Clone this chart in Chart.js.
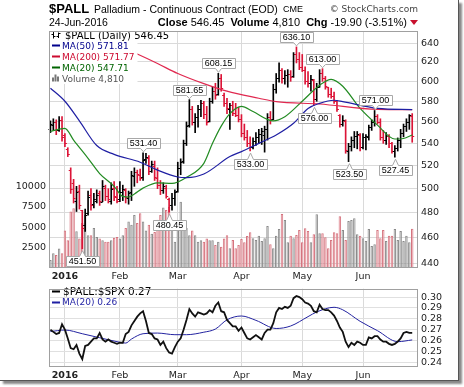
<!DOCTYPE html>
<html><head><meta charset="utf-8">
<script src="https://cdn.jsdelivr.net/npm/chart.js@4.4.1/dist/chart.umd.min.js"></script>
<style>
html,body{margin:0;padding:0;background:#fff;}
#wrap{position:relative;width:464px;height:387px;overflow:hidden;background:#fff;}
#frame{position:absolute;left:0;top:0;width:458px;height:380px;border-right:1px solid #555;border-bottom:1px solid #555;box-shadow:3px 3px 2px #888;background:#fff;}
canvas{position:absolute;left:0;}
#c1{top:0;}
#c2{top:280px;}
.t{position:absolute;white-space:nowrap;font-family:"Liberation Sans",Arial,sans-serif;color:#000;}
.tri{display:inline-block;width:0;height:0;border-left:4px solid transparent;border-right:4px solid transparent;border-top:5px solid #c8102e;margin-left:3px;vertical-align:1px;}
</style></head>
<body>
<div id="wrap">
<div id="frame"></div>
<canvas id="c1" width="464" height="282"></canvas>
<canvas id="c2" width="464" height="101"></canvas>
<div class="t" id="hSym" style="left:49px;top:2px;font-size:13px;line-height:13px;font-weight:bold"></div>
<div class="t" id="hName" style="left:94px;top:3.5px;font-size:10.5px;line-height:10.5px"></div>
<div class="t" id="hExch" style="left:283px;top:5px;font-size:9px;line-height:9px"></div>
<div class="t" style="right:46px;top:4.5px;font-size:9px;line-height:9px;font-family:'DejaVu Sans',sans-serif;color:#444">© StockCharts.com</div>
<div class="t" id="hDate" style="left:49px;top:17px;font-size:10.5px;line-height:10.5px"></div>
<div class="t" id="hStats" style="right:46px;top:16.5px;font-size:11px;line-height:11px"></div>
</div>
<script>
// ---------- DATA ----------
const symbol = '$PALL';
const longName = 'Palladium - Continuous Contract (EOD)';
const exchange = 'CME';
const lastDate = '24-Jun-2016';
const lastClose = 546.45;
const lastVolume = '4,810';
const change = '-19.90 (-3.51%)';

// trading-day index positions of month starts and their labels
const monthTickIdx = [5, 24, 44, 66, 87, 108];
const monthLabels = ['2016', 'Feb', 'Mar', 'Apr', 'May', 'Jun'];
const priceTicks = [440,460,480,500,520,540,560,580,600,620,640];
const volTicks = [2500,5000,7500,10000];
const ratioTicks = [0.24,0.25,0.26,0.27,0.28,0.29,0.30];

const open = [553,557,560,552,562,548,535,516,505,490,
498,482,470,480,495,487,490,496,489,501,
494,490,501,493,491,497,499,492,497,511,
514,512,510,526,527,515,520,509,503,499,
501,491,486,492,498,518,524,540,557,572,
560,565,572,578,568,561,580,590,587,603,
586,578,572,576,569,567,563,550,546,540,
537,542,546,549,548,553,565,563,592,603,
612,603,606,608,605,628,623,615,612,600,
598,601,582,594,609,603,594,587,585,580,
567,558,561,533,538,543,547,548,537,546,
546,555,560,566,560,546,543,547,540,533,
536,543,550,556,560,566];
const high = [561,563,562,565,565,549,536,518,508,502,
503,482,483,498,500,496,499,498,507,503,
500,505,506,502,506,503,500,498,515,518,
516,517,531.4,531,529,524,524,518,507,505,
503,492,496,499,523,526,543,560,581.65,575,
568,576,581,580,575,583,594,598,608.15,607,
588,583,578,580,578,574,567,558,552,546,
545,550,553,554,556,568,570,597,608,619,
613,611,612,611,630,636.1,630,628,615,610,
606,602,598,612,613,605,594,593,589,581,
567,566,562,540,546,551,551,549,549,548,
557,562,571,567,563,552,550,548,541,538,
545,553,558,563,567,568];
const low = [550,552,548,551,542,537,528,496,488,481,
483,451.5,465,478,482,484,488,486,489,490,
488,487,490,488,489,490,488,487,490,502,
505,507,507,522,512,514,507,500,495,496,
492,480.45,482,486,497,512,522,538,555,557,
550,555,565,563,557,560,578,582,586,590,
575,568,553,566,565,560,546,543,537,533,
535,538,540,539,532,543,558,562,588,599,
598,597,594,600,604,619,612,610,597,594,
590,576,580,594,600,592,584,583,578,570,
555,556,531,523.5,533,536,535,533,535,534,
543,552,556,558,543,540,539,536,531,527.45,
533,536,546,551,553,541];
const close = [558,560,552,562,546,540,530,500,492,497,
486,468,478,493,486,491,495,490,502,494,
491,500,494,490,497,500,493,496,512,514,
513,509,525,528,515,521,510,503,499,502,
494,486,492,497,518,523,540,556,572,560,
565,572,578,568,560,580,590,586,603,593,
578,573,576,569,567,563,550,546,540,537,
542,546,549,551,553,565,562,592,603,612,
603,606,608,604,628,623,615,612,600,598,
602,582,594,609,603,595,587,585,580,572,
558,562,534,538,543,547,549,537,546,547,
555,560,566,560,546,543,547,540,533,536,
543,550,556,560,566.35,546.45];
const volume = [980,1800,1600,2400,1800,4600,3400,6900,7300,4500,3600,
5500,6500,4000,4000,4900,3800,3600,3400,3200,3200,
3400,3700,3800,3600,4000,4900,5700,5300,6500,5500,
6700,5700,4600,5300,4200,4400,5900,6500,7400,7100,
7500,4900,3200,4900,8100,5500,4900,4000,4600,4000,
3200,3400,3200,3600,3400,3400,2800,3200,2600,3600,4000,
2410,3430,2410,2820,3550,3140,3920,4370,3630,3430,
3960,3310,3630,5150,2900,2410,3960,4780,6620,5880,
3140,3960,3630,4040,4650,3140,4860,4530,3140,4120,
6570,4250,4250,3750,2410,3430,4370,4250,6330,4650,
3430,5760,5880,6090,4120,3960,3630,3310,4780,2700,
2900,4650,3630,4650,3310,3960,3960,4780,3430,4530,
3310,3960,3140,4810];

// moving averages at sample bar positions
const ma50Idx = [0,5,10,16,22,31,37,44,47,53,62,66,72,78,84,89,93,98,101,113,125];
const ma50Val = [593,580,561,538,530,523,516,510,509.5,512.6,528,532.5,540,547.7,558.7,573,578,581,579.6,573,571.81];
const ma200Idx = [27,30,37,44,53,61,72,78,93,113,125];
const ma200Val = [632.5,628.4,618.4,608,597.6,590,583,579.6,577.3,572,571.77];
const ma20Idx = [0,5,8,13,17,22,25,27,29,32,37,42,47,53,56,59,62,66,70,77,81,87,93,97,101,107,113,119,122,125];
const ma20Val = [551,554,543,526.5,513,502,493.5,493,495.5,500.5,505,504.5,509.7,522,540,556,568,575,570,561,565,580,596,602,595,573,557,544,544.5,547.71];
const ma50Last = 571.81, ma200Last = 571.77, ma20Last = 547.71;

// $PALL:$SPX ratio
const ratio = [.270,.268,.266,.267,.275,.270,.262,.253,.252,.256,
.248,.243,.255,.256,.259,.262,.262,.267,.261,.259,
.261,.259,.258,.257,.258,.258,.266,.268,.274,.278,
.282,.285,.287,.278,.267,.266,.262,.261,.256,.259,
.253,.249,.248,.254,.259,.262,.270,.279,.289,.285,
.282,.286,.285,.284,.285,.288,.286,.292,.295,.287,
.286,.279,.276,.273,.273,.269,.272,.267,.262,.261,
.263,.265,.263,.261,.267,.270,.270,.276,.286,.290,
.289,.291,.290,.292,.299,.301,.300,.298,.295,.294,
.292,.287,.286,.293,.289,.288,.288,.286,.283,.278,
.272,.268,.259,.254,.258,.256,.259,.258,.256,.256,
.263,.262,.264,.264,.261,.259,.259,.257,.256,.257,
.259,.262,.267,.268,.267,.267];
const ratioMaIdx = [0,5,11,17,23,26,28,32,37,43,47,53,57,61,66,71,78,83,89,92,98,101,107,113,120,125];
const ratioMaVal = [.2683,.2697,.2663,.2626,.259,.2577,.2614,.2663,.2669,.2654,.2654,.2677,.2706,.2791,.2826,.2786,.2711,.2734,.282,.2863,.2906,.2883,.2777,.2691,.259,.2606];
const ratioLast = '0.27', ratioMaLast = '0.26';

// annotated highs / lows
const annIdx = [11,32,41,48,58,69,85,91,94,103,112,119];
const annVal = [451.50,531.40,480.45,581.65,608.15,533.00,636.10,576.00,613.00,523.50,571.00,527.45];
const annPos = ['below','above','below','above','above','below','above','below','above','below','above','below'];

// ---------- HEADER ----------
document.getElementById('hSym').textContent = symbol;
document.getElementById('hName').textContent = longName;
document.getElementById('hExch').textContent = exchange;
document.getElementById('hDate').textContent = lastDate;
document.getElementById('hStats').innerHTML = '<b>Close</b> ' + lastClose.toFixed(2) + ' &nbsp;<b>Volume</b> ' + lastVolume + ' &nbsp;<b>Chg</b> ' + change + '<span class="tri"></span>';

// ---------- CHARTS ----------
const RED = '#dc1437';
const FONT = '"DejaVu Sans", Verdana, sans-serif';
Chart.defaults.font.family = FONT;
Chart.defaults.font.size = 9.5;
Chart.defaults.color = '#222';

const idx = close.map((_, i) => i);
const isDown = close.map((c, i) => i > 0 && c < close[i - 1]);
const barColor = isDown.map(d => d ? RED : '#000');
const volFill = isDown.map(d => d ? '#f2b7bd' : '#bebebe');
const volBorder = isDown.map(d => d ? '#d5737e' : '#8a8a8a');

const xScale = (h) => ({
  type: 'linear', min: -0.5, max: 127, offset: false,
  afterFit(s) { s.height = h; },
  afterBuildTicks(s) { s.ticks = monthTickIdx.map(v => ({ value: v })); },
  ticks: { padding: 3, maxRotation: 0, autoSkip: false, color: '#222',
    callback: (v, i) => monthLabels[i],
    font: c => ({ family: FONT, size: 9.5, weight: c.index === 0 ? 'bold' : 'normal' }) },
  grid: { color: '#dadada', drawTicks: false, offset: false },
  border: { display: false }
});

const framePlugin = {
  id: 'frame',
  afterDraw(chart) {
    const a = chart.chartArea, ctx = chart.ctx;
    ctx.save();
    ctx.strokeStyle = '#a0a0a0'; ctx.lineWidth = 1;
    ctx.strokeRect(Math.round(a.left) + 0.5, Math.round(a.top) + 0.5, Math.round(a.right - a.left) - 1, Math.round(a.bottom - a.top) - 1);
    ctx.restore();
  }
};

const ohlcPlugin = {
  id: 'ohlcTicks',
  afterDatasetDraw(chart, args) {
    if (chart.data.datasets[args.index].label !== 'price') return;
    const xs = chart.scales.x, ys = chart.scales.y, ctx = chart.ctx;
    ctx.save();
    ctx.lineWidth = 1;
    idx.forEach(i => {
      const x = xs.getPixelForValue(i);
      ctx.strokeStyle = barColor[i];
      const yo = Math.round(ys.getPixelForValue(open[i])) + 0.5;
      const yc = Math.round(ys.getPixelForValue(close[i])) + 0.5;
      ctx.beginPath();
      ctx.moveTo(x - 2, yo); ctx.lineTo(x, yo);
      ctx.moveTo(x, yc); ctx.lineTo(x + 2, yc);
      ctx.stroke();
    });
    ctx.restore();
  }
};

const annPlugin = {
  id: 'annotations',
  afterDatasetsDraw(chart) {
    const xs = chart.scales.x, ys = chart.scales.y, ctx = chart.ctx, a = chart.chartArea;
    ctx.save();
    ctx.font = '9px "Liberation Sans", Arial, sans-serif';
    ctx.textAlign = 'center'; ctx.textBaseline = 'middle';
    annIdx.forEach((i, k) => {
      const x = Math.round(xs.getPixelForValue(i)) + 0.5;
      const yv = ys.getPixelForValue(annVal[k]);
      const txt = annVal[k].toFixed(2);
      const w = Math.round(ctx.measureText(txt).width) + 5, h = 10;
      const bx = Math.round(x - w / 2) + 0.5;
      let top, tipY;
      ctx.beginPath();
      if (annPos[k] === 'above') {
        const bottom = Math.round(yv - 5) + 0.5; top = bottom - h; tipY = yv - 1;
        ctx.moveTo(bx, top); ctx.lineTo(bx + w, top); ctx.lineTo(bx + w, bottom);
        ctx.lineTo(x + 3, bottom); ctx.lineTo(x, tipY); ctx.lineTo(x - 3, bottom);
        ctx.lineTo(bx, bottom); ctx.closePath();
      } else {
        top = Math.round(Math.min(yv + 7.5, a.bottom - 1 - h)) + 0.5; tipY = yv + 2; const bottom = top + h;
        ctx.moveTo(bx, top); ctx.lineTo(x - 3, top); ctx.lineTo(x, tipY); ctx.lineTo(x + 3, top);
        ctx.lineTo(bx + w, top); ctx.lineTo(bx + w, bottom); ctx.lineTo(bx, bottom); ctx.closePath();
      }
      ctx.fillStyle = '#fff'; ctx.fill();
      ctx.strokeStyle = '#a8a8a8'; ctx.lineWidth = 1; ctx.stroke();
      ctx.fillStyle = '#000';
      ctx.fillText(txt, x, top + h / 2 + 0.5);
    });
    ctx.restore();
  }
};

const mainLegend = {
  id: 'mainLegend',
  afterDatasetsDraw(chart) {
    const ctx = chart.ctx, a = chart.chartArea;
    ctx.save();
    ctx.textBaseline = 'alphabetic'; ctx.textAlign = 'left';
    ctx.font = '10px ' + FONT;
    const t1 = symbol + ' (Daily) ' + lastClose.toFixed(2);
    const w1 = ctx.measureText(t1).width;
    ctx.fillStyle = '#fff';
    ctx.fillRect(a.left + 1, a.top + 1, 65 - a.left + w1 + 2, 9);
    ctx.font = '9px ' + FONT;
    const rows = [
      { t: 'MA(50) ' + ma50Last.toFixed(2), c: '#00008b', y: 48.5 },
      { t: 'MA(200) ' + ma200Last.toFixed(2), c: '#cc0a2f', y: 59.5 },
      { t: 'MA(20) ' + ma20Last.toFixed(2), c: '#006400', y: 70.5 },
      { t: 'Volume ' + lastVolume, c: '#555', y: 81.5 }
    ];
    const mw = Math.max(...rows.map(r => ctx.measureText(r.t).width));
    ctx.fillStyle = '#fff';
    ctx.fillRect(a.left + 1, a.top + 10, 62 - a.left + mw + 2, 84 - a.top - 10);
    ctx.strokeStyle = '#000'; ctx.lineWidth = 1;
    ctx.beginPath();
    ctx.moveTo(53.5, 32); ctx.lineTo(53.5, 38.5); ctx.moveTo(51.5, 34.5); ctx.lineTo(53.5, 34.5); ctx.moveTo(53.5, 36.5); ctx.lineTo(55.5, 36.5);
    ctx.moveTo(58.5, 32.5); ctx.lineTo(58.5, 38); ctx.moveTo(56.5, 36.5); ctx.lineTo(58.5, 36.5); ctx.moveTo(58.5, 33.5); ctx.lineTo(60.5, 33.5);
    ctx.stroke();
    ctx.font = '10px ' + FONT; ctx.fillStyle = '#000';
    ctx.fillText(t1, 65, 38.5);
    ctx.font = '9px ' + FONT;
    rows.forEach((r, k) => {
      ctx.fillStyle = r.c;
      if (k < 3) { ctx.fillRect(52, r.y - 4, 8, 2); }
      else {
        ctx.fillStyle = '#777';
        ctx.fillRect(52, r.y - 4, 2, 4); ctx.fillRect(54.5, r.y - 7, 2, 7); ctx.fillRect(57, r.y - 5, 2, 5);
        ctx.fillStyle = r.c;
      }
      ctx.fillText(r.t, 62, r.y);
    });
    ctx.restore();
  }
};

new Chart(document.getElementById('c1'), {
  type: 'bar',
  data: {
    datasets: [
      { type: 'line', label: 'MA(50)', data: ma50Idx.map((x, k) => ({ x, y: ma50Val[k] })), yAxisID: 'y',
        borderColor: '#1f1fa3', borderWidth: 1.2, pointRadius: 0, cubicInterpolationMode: 'monotone', order: 1 },
      { type: 'line', label: 'MA(200)', data: ma200Idx.map((x, k) => ({ x, y: ma200Val[k] })), yAxisID: 'y',
        borderColor: '#e0284f', borderWidth: 1.2, pointRadius: 0, cubicInterpolationMode: 'monotone', order: 1 },
      { type: 'line', label: 'MA(20)', data: ma20Idx.map((x, k) => ({ x, y: ma20Val[k] })), yAxisID: 'y',
        borderColor: '#228b22', borderWidth: 1.2, pointRadius: 0, cubicInterpolationMode: 'monotone', order: 1 },
      { type: 'bar', label: 'price', data: idx.map(i => ({ x: i, y: [low[i], high[i]] })), yAxisID: 'y',
        backgroundColor: barColor, borderWidth: 0, barThickness: 1, grouped: false, order: 2 },
      { type: 'bar', label: 'Volume', data: idx.map(i => ({ x: i, y: volume[i] })), yAxisID: 'yVol',
        backgroundColor: volFill, borderColor: volBorder, borderWidth: 1, borderSkipped: 'bottom',
        barPercentage: 0.85, categoryPercentage: 1, grouped: false, order: 3 }
    ]
  },
  options: {
    responsive: false, animation: false, devicePixelRatio: 1, events: [],
    layout: { padding: { top: 31, left: 0, right: 0, bottom: 0 } },
    plugins: { legend: { display: false }, tooltip: { enabled: false } },
    scales: {
      x: xScale(14),
      y: { type: 'logarithmic', position: 'right', min: 437, max: 653.5,
        afterFit(s) { s.width = 46; },
        afterBuildTicks(s) { s.ticks = priceTicks.map(v => ({ value: v })); },
        ticks: { padding: 3, color: '#222', autoSkip: false, callback: v => String(v) },
        grid: { color: '#dadada', drawTicks: false }, border: { display: false } },
      yVol: { type: 'linear', position: 'left', min: 0, max: 29000,
        afterFit(s) { s.width = 49; },
        afterBuildTicks(s) { s.ticks = volTicks.map(v => ({ value: v })); },
        ticks: { padding: 3, color: '#222', autoSkip: false, callback: v => String(v) },
        grid: { display: false, drawTicks: false }, border: { display: false } }
    }
  },
  plugins: [ohlcPlugin, annPlugin, mainLegend, framePlugin]
});

const ratioLegend = {
  id: 'ratioLegend',
  afterDatasetsDraw(chart) {
    const ctx = chart.ctx;
    ctx.save();
    ctx.textBaseline = 'alphabetic';
    ctx.fillStyle = '#000';
    ctx.fillRect(52, 10.5, 8, 2);
    ctx.font = '10.5px ' + FONT;
    ctx.fillText(symbol + ':$SPX ' + ratioLast, 63, 14.5);
    ctx.fillStyle = '#1f1fa3';
    ctx.fillRect(52, 21.5, 8, 2);
    ctx.font = '9px ' + FONT;
    ctx.fillText('MA(20) ' + ratioMaLast, 62, 25);
    ctx.restore();
  }
};

new Chart(document.getElementById('c2'), {
  type: 'line',
  data: {
    datasets: [
      { label: 'ratio', data: idx.map(i => ({ x: i, y: ratio[i] })), borderColor: '#111', borderWidth: 1.8,
        pointRadius: 0, tension: 0 },
      { label: 'ma', data: ratioMaIdx.map((x, k) => ({ x, y: ratioMaVal[k] })), borderColor: '#2323a0', borderWidth: 1,
        pointRadius: 0, cubicInterpolationMode: 'monotone' }
    ]
  },
  options: {
    responsive: false, animation: false, devicePixelRatio: 1, events: [],
    layout: { padding: { top: 3, left: 49, right: 0, bottom: 0 } },
    plugins: { legend: { display: false }, tooltip: { enabled: false } },
    scales: {
      x: xScale(14),
      y: { type: 'linear', position: 'right', min: 0.2357, max: 0.3077,
        afterFit(s) { s.width = 46; },
        afterBuildTicks(s) { s.ticks = ratioTicks.map(v => ({ value: v })); },
        ticks: { padding: 3, color: '#222', autoSkip: false, callback: v => v.toFixed(2) },
        grid: { color: '#e0e0e0', drawTicks: false }, border: { display: false } }
    }
  },
  plugins: [ratioLegend, framePlugin]
});
</script>
</body></html>
